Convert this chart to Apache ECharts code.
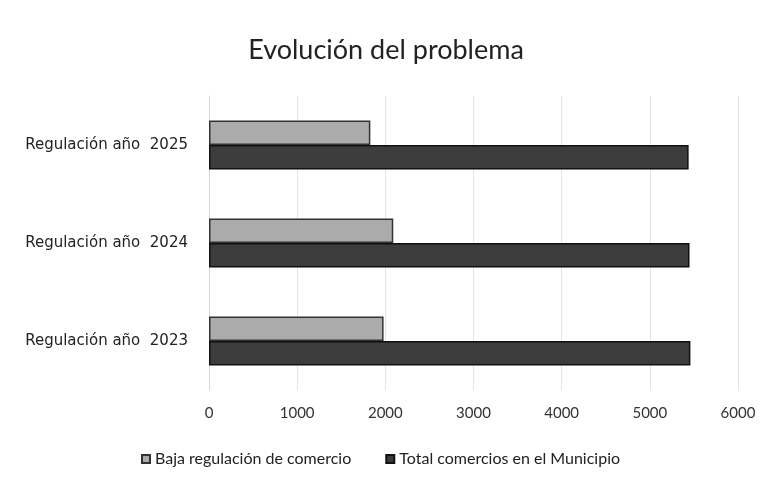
<!DOCTYPE html>
<html>
<head>
<meta charset="utf-8">
<script src="https://cdn.jsdelivr.net/npm/echarts@6/dist/echarts.min.js"></script>
<style>
  html, body { margin: 0; padding: 0; background: #fff; }
  #main { width: 772px; height: 486px; }
</style>
</head>
<body>
<div id="main"></div>
<script>
var categories = ['Regulación año  2023', 'Regulación año  2024', 'Regulación año  2025'];
var bajaValues = [1980, 2090, 1830];
var totalValues = [5460, 5450, 5440];
var xTicks = [0, 1000, 2000, 3000, 4000, 5000, 6000];

var chart = echarts.init(document.getElementById('main'));
var option = {
    backgroundColor: '#ffffff',
    textStyle: {fontFamily: 'Lato'},
    title: {
        text: 'Evolución del problema',
        left: 'center',
        top: 32,
        textStyle: {fontSize: 27, fontWeight: 'normal', color: '#222', fontFamily: 'Lato'}
    },
    legend: {
        data: ['Baja regulación de comercio', 'Total comercios en el Municipio'],
        bottom: 14,
        left: 136,
        itemWidth: 8,
        itemHeight: 8,
        itemGap: 34,
        icon: 'rect',
        textStyle: {fontSize: 16, color: '#222'}
    },
    grid: {left: 209, right: 34, top: 96, bottom: 96},
    xAxis: {
        type: 'value',
        min: xTicks[0],
        max: xTicks[xTicks.length - 1],
        interval: 1000,
        axisLine: {show: false},
        axisTick: {show: false},
        axisLabel: {fontSize: 15, color: '#333', margin: 16, formatter: function (v) { return String(v); }},
        splitLine: {lineStyle: {color: '#e4e4e4'}}
    },
    yAxis: {
        type: 'category',
        data: categories,
        axisLine: {lineStyle: {color: '#d8d8d8'}},
        axisTick: {show: false},
        axisLabel: {fontSize: 15, color: '#222', margin: 21, fontFamily: 'DejaVu Sans'}
    },
    series: [{
        name: 'Baja regulación de comercio',
        type: 'bar',
        data: bajaValues,
        barCategoryGap: '50%',
        barGap: '0%',
        itemStyle: {color: '#ababab', borderColor: '#333', borderWidth: 1.5}
    }, {
        name: 'Total comercios en el Municipio',
        type: 'bar',
        data: totalValues,
        barGap: '0%',
        itemStyle: {color: '#3c3c3c', borderColor: '#111', borderWidth: 1.5}
    }]
};
chart.setOption(option, true);
</script>
</body>
</html>
